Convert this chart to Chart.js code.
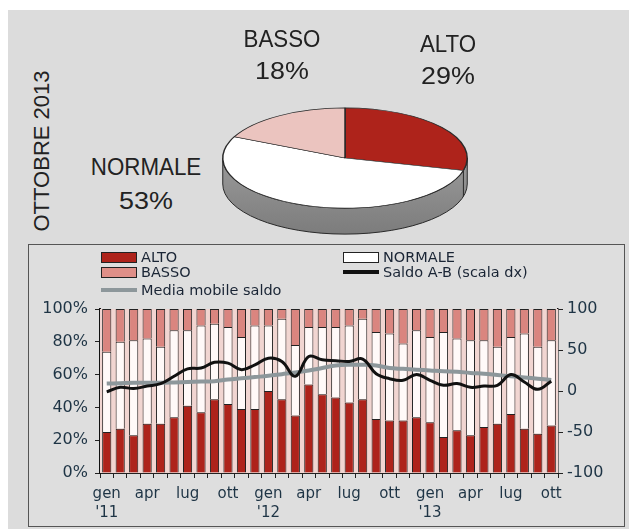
<!DOCTYPE html>
<html>
<head>
<meta charset="utf-8">
<script src="https://cdn.jsdelivr.net/npm/chart.js@4.4.1/dist/chart.umd.min.js"></script>
<style>
  html, body { margin: 0; padding: 0; background: #fff; }
  #page { position: relative; width: 629px; height: 529px; overflow: hidden; }
  #panel { position: absolute; left: 8px; top: 10px; width: 621px; height: 519px; background: #dcdcdc; }
  #pieCanvas { position: absolute; left: 215px; top: 28px; z-index: 1; }
  #box { position: absolute; left: 28px; top: 244px; width: 595px; height: 281px; border: 1px solid #555; background: #dedede; z-index: 2; }
  #barCanvas { position: absolute; left: 0; top: 0; }
  .lbl { position: absolute; font-family: "Liberation Sans", Arial, sans-serif; font-size: 24px; line-height: 24px; color: #222; white-space: nowrap; z-index: 3; }
  #vtitle { position: absolute; left: 42px; top: 151px; font-family: "Liberation Sans", Arial, sans-serif; font-size: 22px; color: #222; white-space: nowrap; transform: translate(-50%, -50%) rotate(-90deg); z-index: 3; }
  .lg { position: absolute; font-family: "DejaVu Sans", sans-serif; font-size: 14.5px; line-height: 15px; color: #1a2535; white-space: nowrap; z-index: 4; }
  .sw { position: absolute; box-sizing: border-box; z-index: 4; }
</style>
</head>
<body>
<div id="page">
  <div id="panel"></div>
  <div id="vtitle">OTTOBRE 2013</div>
  <canvas id="pieCanvas" width="260" height="260"></canvas>
  <div id="pieLabels"></div>
  <div id="box"><canvas id="barCanvas" width="595" height="281"></canvas></div>
  <div id="legend"></div>
</div>
<script>
// torta ottobre 2013
const pieLabels = ['ALTO', 'NORMALE', 'BASSO'];
const pieValues = [29, 53, 18];

// serie mensili gen '11 - ott '13
const categories = [
  "gen '11", "feb '11", "mar '11", "apr '11", "mag '11", "giu '11", "lug '11", "ago '11", "set '11", "ott '11", "nov '11", "dic '11",
  "gen '12", "feb '12", "mar '12", "apr '12", "mag '12", "giu '12", "lug '12", "ago '12", "set '12", "ott '12", "nov '12", "dic '12",
  "gen '13", "feb '13", "mar '13", "apr '13", "mag '13", "giu '13", "lug '13", "ago '13", "set '13", "ott '13"
];
const xTickLabels = [
  ['gen', "'11"], '', '', 'apr', '', '', 'lug', '', '', 'ott', '', '',
  ['gen', "'12"], '', '', 'apr', '', '', 'lug', '', '', 'ott', '', '',
  ['gen', "'13"], '', '', 'apr', '', '', 'lug', '', '', 'ott'
];
const alto    = [25, 27, 23, 30, 30, 34, 41, 37, 45, 42, 39, 39, 50, 45, 35, 54, 48, 46, 43, 45, 33, 32, 32, 34, 31, 22, 26, 23, 28, 30, 36, 27, 24, 29];
const normale = [49, 53, 58, 52, 47, 53, 46, 53, 46, 47, 44, 51, 40, 49, 43, 35, 41, 43, 47, 49, 53, 53, 47, 53, 52, 64, 56, 58, 53, 47, 47, 58, 53, 52];
const basso   = [26, 20, 19, 18, 23, 13, 13, 10,  9, 11, 17, 10, 10,  6, 22, 11, 11, 11, 10,  6, 14, 15, 21, 13, 17, 14, 18, 19, 19, 23, 17, 15, 23, 19];
const saldo   = [-1, 4.5, 3, 6, 9, 18, 27, 28, 35, 34, 26, 32, 40, 36, 18, 42, 38, 37, 36, 39, 21, 15, 13, 20, 13, 7, 9, 4.5, 6, 7, 20, 11, 2, 12];
const mediaMobile = [9, 9.5, 10, 10, 10, 10.5, 11, 11.5, 12, 14, 15.5, 17, 18.5, 20.5, 22.5, 25, 28, 31, 32, 32, 31, 28, 27, 26, 25, 24, 23.5, 22, 21, 19.5, 18, 16.5, 15, 13.5];
const leftTicks = [0, 20, 40, 60, 80, 100];
const rightTicks = [-100, -50, 0, 50, 100];

const RED = '#ae231b';
const PINK = '#da857f';
const WHITE = '#fff9f8';
const GREY_LINE = '#8d979b';
const TICK_COLOR = '#1e3445';

// etichette della torta
const pieLabelPos = {
  'ALTO':    { x: 448, y: 32, y2: 64 },
  'NORMALE': { x: 146, y: 155, y2: 189 },
  'BASSO':   { x: 282, y: 27, y2: 59 }
};
const pl = document.getElementById('pieLabels');
pieLabels.forEach((name, i) => {
  const p = pieLabelPos[name];
  const a = document.createElement('div');
  a.className = 'lbl';
  a.style.left = p.x + 'px';
  a.style.top = p.y + 'px';
  a.style.transform = 'translateX(-50%) scaleX(0.93)';
  a.textContent = name;
  pl.appendChild(a);
  const b = document.createElement('div');
  b.className = 'lbl';
  b.style.left = p.x + 'px';
  b.style.top = p.y2 + 'px';
  b.style.transform = 'translateX(-50%) scaleX(1.12)';
  b.textContent = pieValues[i] + '%';
  pl.appendChild(b);
});

// effetto 3D: fianco grigio e schiacciamento
const K = 0.41, DEPTH = 26;
const pie3d = {
  id: 'pie3d',
  beforeDatasetsDraw(chart) {
    const ctx = chart.ctx;
    const arcs = chart.getDatasetMeta(0).data;
    const x = arcs[0].x, y = arcs[0].y, r = arcs[0].outerRadius;
    ctx.save();
    const g = ctx.createLinearGradient(0, y, 0, y + r * K + DEPTH);
    g.addColorStop(0, '#9a9a9a');
    g.addColorStop(1, '#7c7c7c');
    ctx.beginPath();
    ctx.moveTo(x - r, y);
    ctx.lineTo(x - r, y + DEPTH);
    ctx.ellipse(x, y + DEPTH, r, r * K, 0, Math.PI, 0, true);
    ctx.lineTo(x + r, y);
    ctx.ellipse(x, y, r, r * K, 0, 0, Math.PI, false);
    ctx.closePath();
    ctx.fillStyle = g;
    ctx.fill();
    ctx.strokeStyle = '#2a2a2a';
    ctx.lineWidth = 1;
    ctx.stroke();
    arcs.forEach(arc => {
      const ang = arc.endAngle;
      if (Math.sin(ang) > 0) {
        const px = x + r * Math.cos(ang), py = y + r * K * Math.sin(ang);
        ctx.beginPath();
        ctx.moveTo(px, py);
        ctx.lineTo(px, py + DEPTH);
        ctx.stroke();
      }
    });
    ctx.restore();
    ctx.save();
    ctx.translate(0, y);
    ctx.scale(1, K);
    ctx.translate(0, -y);
  },
  afterDatasetsDraw(chart) {
    chart.ctx.restore();
  }
};

new Chart(document.getElementById('pieCanvas'), {
  type: 'pie',
  data: {
    labels: pieLabels,
    datasets: [{
      data: pieValues,
      backgroundColor: [RED, '#ffffff', '#ebc4bf'],
      borderColor: '#2a2a2a',
      borderWidth: 1.5
    }]
  },
  options: {
    responsive: false,
    animation: false,
    layout: { padding: 7 },
    plugins: { legend: { display: false }, tooltip: { enabled: false } }
  },
  plugins: [pie3d]
});

// legenda
const legendItems = [
  { text: 'ALTO', kind: 'box', color: RED, x: 101, y: 252 },
  { text: 'BASSO', kind: 'box', color: '#df8f88', x: 101, y: 267 },
  { text: 'Media mobile saldo', kind: 'line', color: GREY_LINE, x: 101, y: 290 },
  { text: 'NORMALE', kind: 'box', color: '#ffffff', x: 343, y: 252 },
  { text: 'Saldo A-B (scala dx)', kind: 'line', color: '#111', x: 343, y: 272 }
];
const lg = document.getElementById('legend');
legendItems.forEach(it => {
  const s = document.createElement('div');
  s.className = 'sw';
  s.style.left = it.x + 'px';
  s.style.width = '36px';
  s.style.background = it.color;
  let cy;
  if (it.kind === 'box') {
    s.style.top = it.y + 'px';
    s.style.height = '11px';
    s.style.border = '1px solid #222';
    cy = it.y + 5.5;
  } else {
    s.style.top = (it.y - 2) + 'px';
    s.style.height = '4px';
    cy = it.y;
  }
  lg.appendChild(s);
  const t = document.createElement('div');
  t.className = 'lg';
  t.style.left = (it.x + 40) + 'px';
  t.style.top = (cy - 7.5) + 'px';
  t.textContent = it.text;
  lg.appendChild(t);
});

const areaBg = {
  id: 'areaBg',
  beforeDatasetsDraw(chart) {
    const { ctx, chartArea: a } = chart;
    ctx.save();
    ctx.fillStyle = '#f1d5d1';
    ctx.fillRect(a.left, a.top, a.right - a.left, a.bottom - a.top);
    ctx.restore();
  }
};

const xFont = { family: 'DejaVu Sans', size: 15, lineHeight: 1.3 };
const yFont = { family: 'DejaVu Sans', size: 16 };

new Chart(document.getElementById('barCanvas'), {
  type: 'bar',
  data: {
    labels: categories,
    datasets: [
      { type: 'line', label: 'Saldo A-B (scala dx)', data: saldo, yAxisID: 'y1', borderColor: '#111', borderWidth: 3, pointRadius: 0, tension: 0.4, order: 0 },
      { type: 'line', label: 'Media mobile saldo', data: mediaMobile, yAxisID: 'y1', borderColor: GREY_LINE, borderWidth: 4, pointRadius: 0, tension: 0.4, order: 1 },
      { label: 'ALTO', data: alto, backgroundColor: RED, borderColor: '#222', borderWidth: 1, order: 2 },
      { label: 'NORMALE', data: normale, backgroundColor: WHITE, borderColor: '#222', borderWidth: 1, order: 2 },
      { label: 'BASSO', data: basso, backgroundColor: PINK, borderColor: '#222', borderWidth: 1, order: 2 }
    ]
  },
  options: {
    responsive: false,
    animation: false,
    layout: { padding: { top: 64, left: 0, right: 0, bottom: 0 } },
    datasets: { bar: { barPercentage: 0.68, categoryPercentage: 1 } },
    plugins: { legend: { display: false }, tooltip: { enabled: false } },
    scales: {
      x: {
        stacked: true,
        offset: true,
        afterFit: s => { s.height = 53; },
        grid: { offset: true, drawOnChartArea: false, tickLength: 5, color: '#222', lineWidth: 1 },
        border: { display: true, color: '#222', width: 1 },
        ticks: {
          autoSkip: false, maxRotation: 0, padding: 6,
          color: TICK_COLOR, font: xFont,
          callback: (v, i) => xTickLabels[i]
        }
      },
      y: {
        stacked: true,
        min: 0, max: 100,
        afterFit: s => { s.width = 71; },
        afterBuildTicks: s => { s.ticks = leftTicks.map(v => ({ value: v })); },
        grid: { drawOnChartArea: false, tickLength: 5, color: '#222' },
        border: { display: true, color: '#111', width: 2 },
        ticks: { padding: 7, color: TICK_COLOR, font: yFont, callback: v => v + '%' }
      },
      y1: {
        position: 'right',
        min: -100, max: 100,
        afterFit: s => { s.width = 66; },
        afterBuildTicks: s => { s.ticks = rightTicks.map(v => ({ value: v })); },
        grid: { drawOnChartArea: false, tickLength: 5, color: '#222' },
        border: { display: true, color: '#111', width: 1.5 },
        ticks: { padding: 4, color: TICK_COLOR, font: yFont }
      }
    }
  },
  plugins: [areaBg]
});
</script>
</body>
</html>
